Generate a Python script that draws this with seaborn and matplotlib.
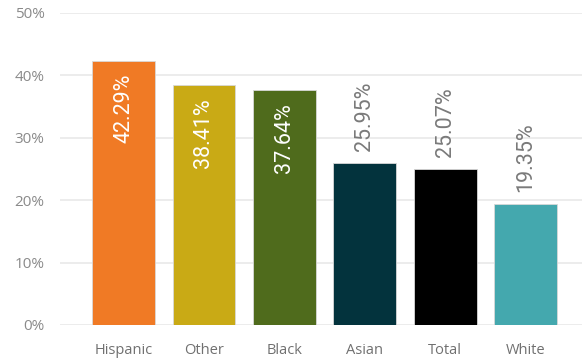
import matplotlib
matplotlib.use("Agg")
import matplotlib.pyplot as plt
import seaborn as sns
import pandas as pd

categories = ["Hispanic", "Other", "Black", "Asian", "Total", "White"]
values = [42.29, 38.41, 37.64, 25.95, 25.07, 19.35]
colors = ["#F07A25", "#C9AA15", "#4F6B1C", "#03333D", "#000000", "#44A8AE"]
y_ticks = [0, 10, 20, 30, 40, 50]
y_tick_labels = ["0%", "10%", "20%", "30%", "40%", "50%"]

df = pd.DataFrame({"group": categories, "rate": values})

sns.set_theme(style="white")
plt.rcParams["font.family"] = ["Open Sans", "DejaVu Sans"]

fig = plt.figure(figsize=(5.82, 3.62), dpi=100)
ax = fig.add_axes([60 / 582, 37 / 362, 522 / 582, 312 / 362])

sns.barplot(data=df, x="group", y="rate", hue="group", palette=colors,
            dodge=False, legend=False, width=0.78, saturation=1,
            edgecolor="#d8d8d8", linewidth=0.6, ax=ax, zorder=3)

ax.set_ylim(0, 50)
ax.set_xlim(-0.79, 5.70)
ax.set_yticks(y_ticks)
ax.set_yticklabels(y_tick_labels)
ax.yaxis.grid(True, color="#e9e9e9", linewidth=1.2, zorder=0)
ax.xaxis.grid(False)
for s in ax.spines.values():
    s.set_visible(False)
ax.set_xlabel("")
ax.set_ylabel("")
ax.tick_params(axis="y", length=0, pad=11, labelsize=11, labelcolor="#8a8a8a")
ax.tick_params(axis="x", length=0, pad=13, labelsize=10.5, labelcolor="#707070")

for i, v in enumerate(values):
    label = f"{v:.2f}%"
    if v > 30:
        ax.annotate(label, (i, v), xytext=(0, -13), textcoords="offset pixels",
                    rotation=90, ha="center", va="top", color="white",
                    fontsize=15.5, family=["Roboto", "DejaVu Sans"])
    else:
        ax.annotate(label, (i, v), xytext=(0, 12), textcoords="offset pixels",
                    rotation=90, ha="center", va="bottom", color="#7a7a7a",
                    fontsize=15.5, family=["Roboto", "DejaVu Sans"])

fig.savefig("out.png", dpi=100)
